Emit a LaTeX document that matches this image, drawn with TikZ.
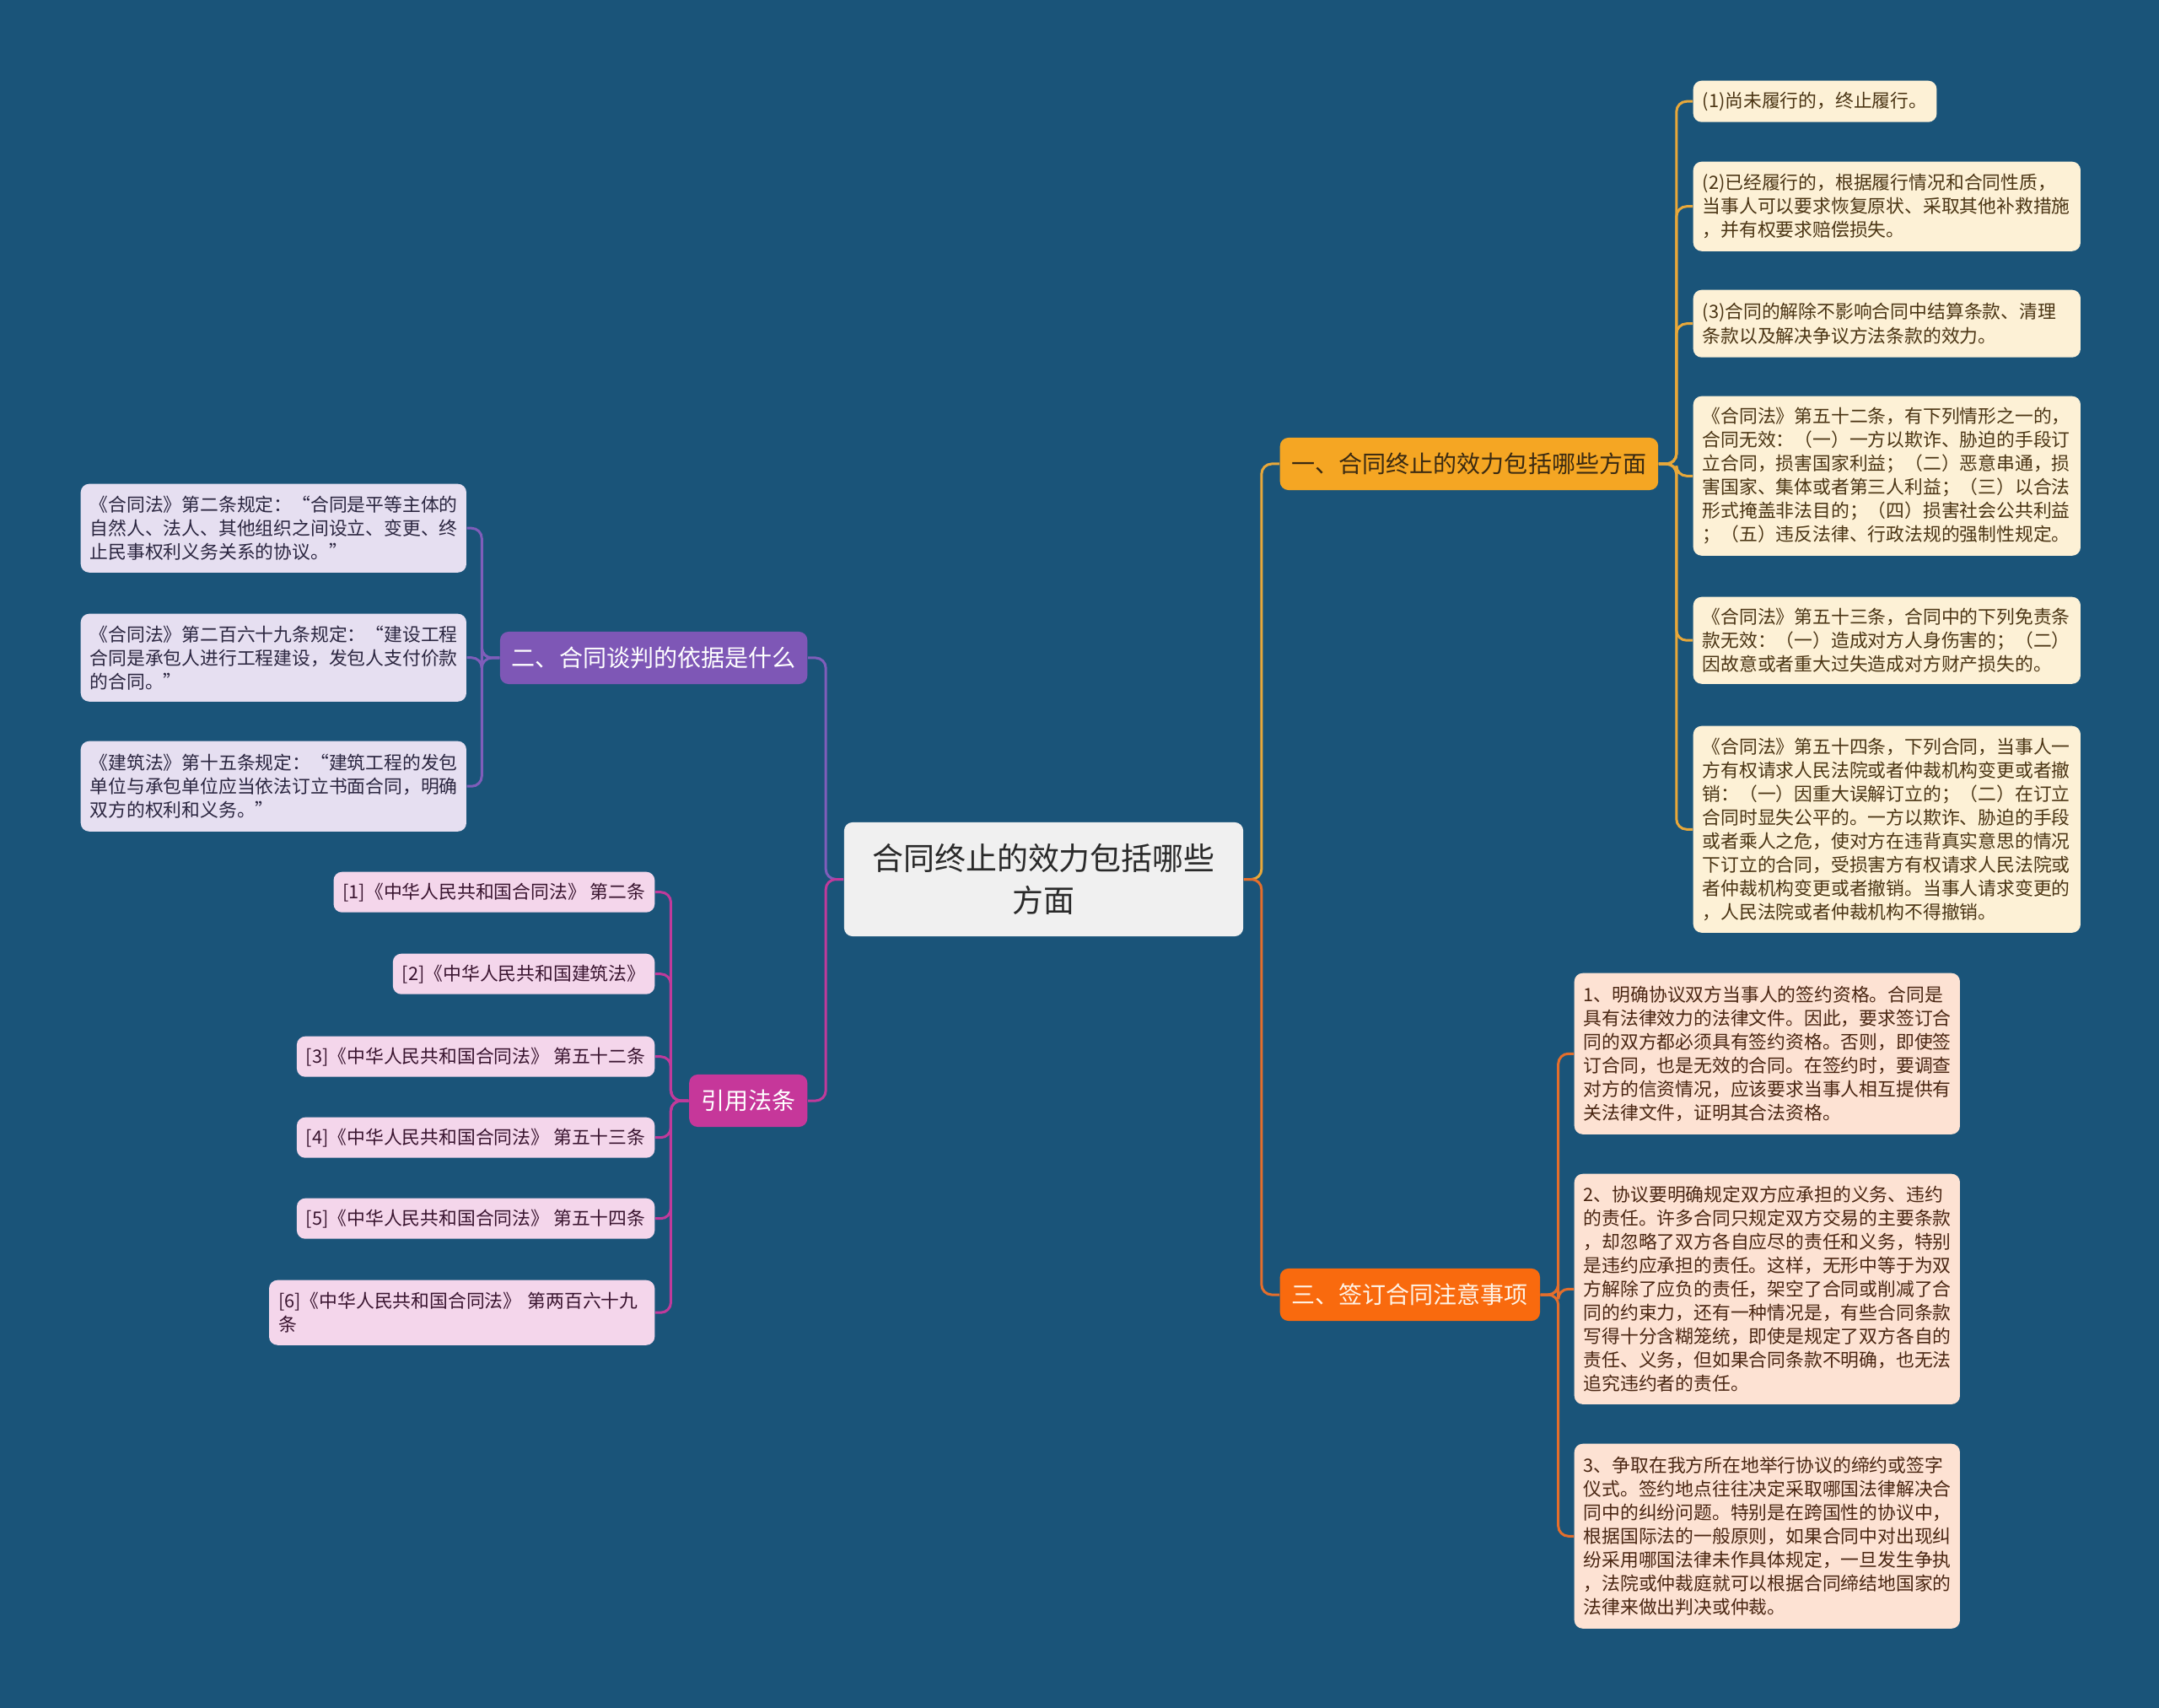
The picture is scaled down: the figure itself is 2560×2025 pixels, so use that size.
\documentclass[tikz,border=0pt]{standalone}
\usepackage{fontspec}
\setmainfont{Noto Sans CJK SC}
\usepackage{xcolor}
\usetikzlibrary{positioning,calc}

\definecolor{bgblue}{HTML}{1A5479}
\definecolor{rootfill}{HTML}{F0F0F0}
\definecolor{rootink}{HTML}{2A2A2A}
\definecolor{goldfill}{HTML}{F5A623}
\definecolor{goldink}{HTML}{3A2A12}
\definecolor{goldline}{HTML}{E8A83A}
\definecolor{creamfill}{HTML}{FDF1D6}
\definecolor{creamink}{HTML}{4B3514}
\definecolor{flamefill}{HTML}{F96A0E}
\definecolor{flameink}{HTML}{FFF3E6}
\definecolor{flameline}{HTML}{E46E2C}
\definecolor{peachfill}{HTML}{FDE2D3}
\definecolor{peachink}{HTML}{4A2612}
\definecolor{violetfill}{HTML}{7E57B6}
\definecolor{violetline}{HTML}{7F5DBA}
\definecolor{lavfill}{HTML}{E6DFF1}
\definecolor{lavink}{HTML}{2B2640}
\definecolor{plumfill}{HTML}{C6379A}
\definecolor{plumline}{HTML}{C03A9B}
\definecolor{pinkfill}{HTML}{F4D6EB}
\definecolor{pinkink}{HTML}{3A1530}

\begin{document}
\begin{tikzpicture}[x=0.01cm,y=-0.01cm,
  box/.style={rounded corners=0.1cm,inner xsep=0.11cm,inner ysep=0cm,align=left},
  leaftext/.style={font=\fontsize{6.2pt}{7.97pt}\selectfont},
  leafgold/.style={box,leaftext,fill=creamfill,text=creamink,anchor=north west},
  leafflame/.style={box,leaftext,fill=peachfill,text=peachink,anchor=north west,text width=4.35cm},
  leafviolet/.style={box,leaftext,fill=lavfill,text=lavink,anchor=north west,text width=4.35cm},
  leafplum/.style={box,leaftext,fill=pinkfill,text=pinkink,anchor=north east,minimum height=0.48cm},
  branch/.style={rounded corners=0.1cm,inner xsep=0.14cm,inner ysep=0cm,minimum height=0.62cm,
    font=\fontsize{7.97pt}{9pt}\selectfont},
  link/.style={line width=0.03cm,rounded corners=0.12cm}]

  \fill[bgblue] (0,0) rectangle (2560,2025);
  \useasboundingbox (0,0) rectangle (2560,2025);

  % centre
  \node[rounded corners=0.1cm,fill=rootfill,text=rootink,align=center,minimum width=4.73cm,
    minimum height=1.35cm,font=\fontsize{10.5pt}{14.2pt}\selectfont] (root) at (1237.5,1042.5)
    {合同终止的效力包括哪些\\方面};

  % main branches
  \node[branch,fill=goldfill,text=goldink,anchor=west] (effect) at (1517,550) {一、合同终止的效力包括哪些方面};
  \node[branch,fill=flamefill,text=flameink,anchor=west] (notice) at (1517,1535) {三、签订合同注意事项};
  \node[branch,fill=violetfill,text=white,anchor=east] (basis) at (958,780) {二、合同谈判的依据是什么};
  \node[branch,fill=plumfill,text=white,anchor=east] (cite) at (958,1305) {引用法条};

  % leaves of branch one
  \node[leafgold,minimum height=0.49cm] (eff1) at (2007,95) {(1)尚未履行的，终止履行。};
  \node[leafgold,text width=4.37cm,minimum height=1.06cm] (eff2) at (2007,191)
    {(2)已经履行的，根据履行情况和合同性质，\\当事人可以要求恢复原状、采取其他补救措施\\，并有权要求赔偿损失。};
  \node[leafgold,text width=4.37cm,minimum height=0.80cm] (eff3) at (2007,343)
    {(3)合同的解除不影响合同中结算条款、清理\\条款以及解决争议方法条款的效力。};
  \node[leafgold,text width=4.37cm,minimum height=1.89cm] (eff4) at (2007,469)
    {《合同法》第五十二条，有下列情形之一的，\\合同无效：（一）一方以欺诈、胁迫的手段订\\立合同，损害国家利益；（二）恶意串通，损\\害国家、集体或者第三人利益；（三）以合法\\形式掩盖非法目的；（四）损害社会公共利益\\；（五）违反法律、行政法规的强制性规定。};
  \node[leafgold,text width=4.37cm,minimum height=1.03cm] (eff5) at (2007,707)
    {《合同法》第五十三条，合同中的下列免责条\\款无效：（一）造成对方人身伤害的；（二）\\因故意或者重大过失造成对方财产损失的。};
  \node[leafgold,text width=4.37cm,minimum height=2.45cm] (eff6) at (2007,860)
    {《合同法》第五十四条，下列合同，当事人一\\方有权请求人民法院或者仲裁机构变更或者撤\\销：（一）因重大误解订立的；（二）在订立\\合同时显失公平的。一方以欺诈、胁迫的手段\\或者乘人之危，使对方在违背真实意思的情况\\下订立的合同，受损害方有权请求人民法院或\\者仲裁机构变更或者撤销。当事人请求变更的\\，人民法院或者仲裁机构不得撤销。};

  % leaves of branch three
  \node[leafflame,minimum height=1.91cm] (note1) at (1866,1153)
    {1、明确协议双方当事人的签约资格。合同是\\具有法律效力的法律文件。因此，要求签订合\\同的双方都必须具有签约资格。否则，即使签\\订合同，也是无效的合同。在签约时，要调查\\对方的信资情况，应该要求当事人相互提供有\\关法律文件，证明其合法资格。};
  \node[leafflame,minimum height=2.73cm] (note2) at (1866,1391)
    {2、协议要明确规定双方应承担的义务、违约\\的责任。许多合同只规定双方交易的主要条款\\，却忽略了双方各自应尽的责任和义务，特别\\是违约应承担的责任。这样，无形中等于为双\\方解除了应负的责任，架空了合同或削减了合\\同的约束力，还有一种情况是，有些合同条款\\写得十分含糊笼统，即使是规定了双方各自的\\责任、义务，但如果合同条款不明确，也无法\\追究违约者的责任。};
  \node[leafflame,minimum height=2.19cm] (note3) at (1866,1711)
    {3、争取在我方所在地举行协议的缔约或签字\\仪式。签约地点往往决定采取哪国法律解决合\\同中的纠纷问题。特别是在跨国性的协议中，\\根据国际法的一般原则，如果合同中对出现纠\\纷采用哪国法律未作具体规定，一旦发生争执\\，法院或仲裁庭就可以根据合同缔结地国家的\\法律来做出判决或仲裁。};

  % leaves of branch two
  \node[leafviolet,minimum height=1.05cm] (law1) at (95,573)
    {《合同法》第二条规定：“合同是平等主体的\\自然人、法人、其他组织之间设立、变更、终\\止民事权利义务关系的协议。”};
  \node[leafviolet,minimum height=1.04cm] (law2) at (95,727)
    {《合同法》第二百六十九条规定：“建设工程\\合同是承包人进行工程建设，发包人支付价款\\的合同。”};
  \node[leafviolet,minimum height=1.07cm] (law3) at (95,878)
    {《建筑法》第十五条规定：“建筑工程的发包\\单位与承包单位应当依法订立书面合同，明确\\双方的权利和义务。”};

  % leaves of branch four
  \node[leafplum] (ref1) at (777,1033) {[1]《中华人民共和国合同法》 第二条};
  \node[leafplum] (ref2) at (777,1130) {[2]《中华人民共和国建筑法》};
  \node[leafplum] (ref3) at (777,1228) {[3]《中华人民共和国合同法》 第五十二条};
  \node[leafplum] (ref4) at (777,1324) {[4]《中华人民共和国合同法》 第五十三条};
  \node[leafplum] (ref5) at (777,1420) {[5]《中华人民共和国合同法》 第五十四条};
  \node[leafplum,text width=4.35cm,minimum height=0.77cm] (ref6) at (777,1517) {[6]《中华人民共和国合同法》 第两百六十九\\条};

  % connectors
  \draw[link,goldline] (root.east) -- ++(21,0) |- (effect.west);
  \draw[link,flameline] (root.east) -- ++(21,0) |- (notice.west);
  \draw[link,violetline] (root.west) -- ++(-21,0) |- (basis.east);
  \draw[link,plumline] (root.west) -- ++(-21,0) |- (cite.east);
  \foreach \leaf in {eff1,eff2,eff3,eff4,eff5,eff6}
    \draw[link,goldline] (effect.east) -- ++(21,0) |- (\leaf.west);
  \foreach \leaf in {note1,note2,note3}
    \draw[link,flameline] (notice.east) -- ++(21,0) |- (\leaf.west);
  \foreach \leaf in {law1,law2,law3}
    \draw[link,violetline] (basis.west) -- ++(-21,0) |- (\leaf.east);
  \foreach \leaf in {ref1,ref2,ref3,ref4,ref5,ref6}
    \draw[link,plumline] (cite.west) -- ++(-21,0) |- (\leaf.east);
\end{tikzpicture}
\end{document}
